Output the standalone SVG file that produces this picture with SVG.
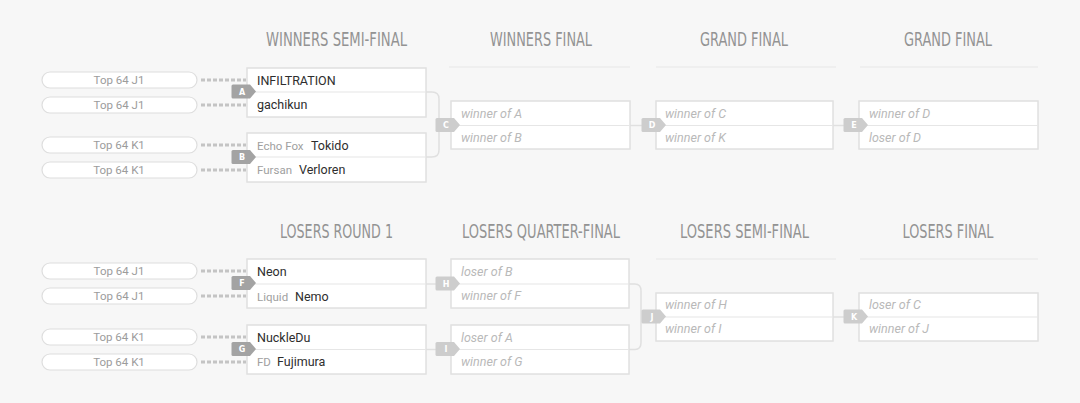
<svg xmlns="http://www.w3.org/2000/svg" width="1080" height="403" viewBox="0 0 1080 403">
<style>
.bg{fill:#f7f7f7}
.hdr{font-family:"DejaVu Sans Condensed","DejaVu Sans",sans-serif;font-size:20px;fill:#939393}
.uline{stroke:#ececec;stroke-width:1.5}
.pill{fill:#fff;stroke:#dedede;stroke-width:1.2}
.ptxt{font-family:Roboto,"Liberation Sans",sans-serif;font-size:11.5px;fill:#9c9c9c;text-anchor:middle}
.dash{stroke:#c4c4c4;stroke-width:3;stroke-dasharray:4 2;fill:none}
.box{fill:#fff;stroke:#e0e0e0;stroke-width:1.5}
.div{stroke:#e6e6e6;stroke-width:1.2}
.name{font-family:Roboto,"Liberation Sans",sans-serif;font-size:12.5px;fill:#2e2e2e}
.team{font-family:Roboto,"Liberation Sans",sans-serif;font-size:11.5px;fill:#a0a0a0}
.ph{font-family:Roboto,"Liberation Sans",sans-serif;font-size:12.5px;font-style:italic;fill:#b9b9b9}
.conn{stroke:#e0e0e0;stroke-width:1.5;fill:none}
.bd{fill:#a3a3a3}
.bl{fill:#cdcdcd}
.btxt{font-family:"DejaVu Sans",sans-serif;font-size:8px;font-weight:bold;fill:#fff;text-anchor:middle}
</style>
<defs>
<path id="badge" d="M-10,-7 H7 L13,0 L7,7 H-10 Q-11.5,7 -11.5,5.5 V-5.5 Q-11.5,-7 -10,-7 Z"/>
</defs>
<rect class="bg" x="0" y="0" width="1080" height="403"/>

<g id="headers">
<text class="hdr" x="336.5" y="45.5" text-anchor="middle" textLength="141" lengthAdjust="spacingAndGlyphs">WINNERS SEMI-FINAL</text>
<text class="hdr" x="541" y="45.5" text-anchor="middle" textLength="102" lengthAdjust="spacingAndGlyphs">WINNERS FINAL</text>
<text class="hdr" x="744" y="45.5" text-anchor="middle" textLength="88" lengthAdjust="spacingAndGlyphs">GRAND FINAL</text>
<text class="hdr" x="948" y="45.5" text-anchor="middle" textLength="88" lengthAdjust="spacingAndGlyphs">GRAND FINAL</text>
<text class="hdr" x="336.5" y="237.5" text-anchor="middle" textLength="113" lengthAdjust="spacingAndGlyphs">LOSERS ROUND 1</text>
<text class="hdr" x="541" y="237.5" text-anchor="middle" textLength="158" lengthAdjust="spacingAndGlyphs">LOSERS QUARTER-FINAL</text>
<text class="hdr" x="744.5" y="237.5" text-anchor="middle" textLength="129" lengthAdjust="spacingAndGlyphs">LOSERS SEMI-FINAL</text>
<text class="hdr" x="948" y="237.5" text-anchor="middle" textLength="91" lengthAdjust="spacingAndGlyphs">LOSERS FINAL</text>
<line class="uline" x1="449" y1="67" x2="630" y2="67"/>
<line class="uline" x1="656" y1="67" x2="836" y2="67"/>
<line class="uline" x1="860" y1="67" x2="1038" y2="67"/>
<line class="uline" x1="656" y1="259" x2="836" y2="259"/>
<line class="uline" x1="860" y1="259" x2="1038" y2="259"/>
</g>

<g id="seeds">
<rect class="pill" x="42" y="72" width="155" height="16" rx="8"/>
<text class="ptxt" x="119" y="84">Top 64 J1</text>
<rect class="pill" x="42" y="97" width="155" height="16" rx="8"/>
<text class="ptxt" x="119" y="109">Top 64 J1</text>
<rect class="pill" x="42" y="137" width="155" height="16" rx="8"/>
<text class="ptxt" x="119" y="149">Top 64 K1</text>
<rect class="pill" x="42" y="162" width="155" height="16" rx="8"/>
<text class="ptxt" x="119" y="174">Top 64 K1</text>
<rect class="pill" x="42" y="263" width="155" height="16" rx="8"/>
<text class="ptxt" x="119" y="275">Top 64 J1</text>
<rect class="pill" x="42" y="288" width="155" height="16" rx="8"/>
<text class="ptxt" x="119" y="300">Top 64 J1</text>
<rect class="pill" x="42" y="329" width="155" height="16" rx="8"/>
<text class="ptxt" x="119" y="341">Top 64 K1</text>
<rect class="pill" x="42" y="354" width="155" height="16" rx="8"/>
<text class="ptxt" x="119" y="366">Top 64 K1</text>
</g>

<g id="connectors">
<line class="dash" x1="201" y1="80" x2="246" y2="80"/>
<line class="dash" x1="201" y1="105" x2="246" y2="105"/>
<line class="dash" x1="201" y1="145" x2="246" y2="145"/>
<line class="dash" x1="201" y1="170" x2="246" y2="170"/>
<line class="dash" x1="201" y1="271" x2="246" y2="271"/>
<line class="dash" x1="201" y1="296" x2="246" y2="296"/>
<line class="dash" x1="201" y1="337" x2="246" y2="337"/>
<line class="dash" x1="201" y1="362" x2="246" y2="362"/>
<path class="conn" d="M426,92 H432 Q439,92 439,99 V150 Q439,157 432,157 H426"/>
<line class="conn" x1="630" y1="125.5" x2="645" y2="125.5"/>
<line class="conn" x1="833" y1="125.5" x2="848" y2="125.5"/>
<line class="conn" x1="426" y1="284" x2="440" y2="284"/>
<line class="conn" x1="426" y1="349.5" x2="440" y2="349.5"/>
<path class="conn" d="M629,284 H635 Q641,284 641,291 V342.5 Q641,349.5 635,349.5 H629"/>
<line class="conn" x1="833" y1="317" x2="848" y2="317"/>
</g>

<g id="match-A">
<rect class="box" x="247" y="68" width="179" height="49"/>
<line class="div" x1="247" y1="92" x2="426" y2="92"/>
<text class="name" x="257" y="85">INFILTRATION</text>
<text class="name" x="257" y="109">gachikun</text>
<use href="#badge" x="243" y="91.5" class="bd"/>
<text class="btxt" x="242" y="94.5">A</text>
</g>

<g id="match-B">
<rect class="box" x="247" y="133" width="179" height="49"/>
<line class="div" x1="247" y1="157" x2="426" y2="157"/>
<text x="257" y="150"><tspan class="team">Echo Fox</tspan><tspan class="name" x="311">Tokido</tspan></text>
<text x="257" y="174"><tspan class="team">Fursan</tspan><tspan class="name" x="299">Verloren</tspan></text>
<use href="#badge" x="243" y="157" class="bd"/>
<text class="btxt" x="242" y="160">B</text>
</g>

<g id="match-C">
<rect class="box" x="451" y="101" width="179" height="48"/>
<line class="div" x1="451" y1="125.5" x2="630" y2="125.5"/>
<text class="ph" x="461" y="118">winner of A</text>
<text class="ph" x="461" y="142">winner of B</text>
<use href="#badge" x="447" y="125" class="bl"/>
<text class="btxt" x="446" y="128">C</text>
</g>

<g id="match-D">
<rect class="box" x="656" y="101" width="177" height="48"/>
<line class="div" x1="656" y1="125.5" x2="833" y2="125.5"/>
<text class="ph" x="665" y="118">winner of C</text>
<text class="ph" x="665" y="142">winner of K</text>
<use href="#badge" x="653" y="125" class="bl"/>
<text class="btxt" x="652" y="128">D</text>
</g>

<g id="match-E">
<rect class="box" x="859" y="101" width="179" height="48"/>
<line class="div" x1="859" y1="125.5" x2="1038" y2="125.5"/>
<text class="ph" x="869" y="118">winner of D</text>
<text class="ph" x="869" y="142">loser of D</text>
<use href="#badge" x="855" y="125" class="bl"/>
<text class="btxt" x="854" y="128">E</text>
</g>

<g id="match-F">
<rect class="box" x="247" y="259" width="179" height="49"/>
<line class="div" x1="247" y1="284" x2="426" y2="284"/>
<text class="name" x="257" y="276">Neon</text>
<text x="257" y="301"><tspan class="team">Liquid</tspan><tspan class="name" x="295">Nemo</tspan></text>
<use href="#badge" x="243" y="283" class="bd"/>
<text class="btxt" x="242" y="286">F</text>
</g>

<g id="match-G">
<rect class="box" x="247" y="325" width="179" height="49"/>
<line class="div" x1="247" y1="349.5" x2="426" y2="349.5"/>
<text class="name" x="257" y="342">NuckleDu</text>
<text x="257" y="366"><tspan class="team">FD</tspan><tspan class="name" x="277">Fujimura</tspan></text>
<use href="#badge" x="243" y="349" class="bd"/>
<text class="btxt" x="242" y="352">G</text>
</g>

<g id="match-H">
<rect class="box" x="451" y="259" width="178" height="49"/>
<line class="div" x1="451" y1="284" x2="629" y2="284"/>
<text class="ph" x="461" y="276">loser of B</text>
<text class="ph" x="461" y="300">winner of F</text>
<use href="#badge" x="447" y="283.5" class="bl"/>
<text class="btxt" x="446" y="286.5">H</text>
</g>

<g id="match-I">
<rect class="box" x="451" y="325" width="178" height="49"/>
<line class="div" x1="451" y1="349.5" x2="629" y2="349.5"/>
<text class="ph" x="461" y="342">loser of A</text>
<text class="ph" x="461" y="366">winner of G</text>
<use href="#badge" x="447" y="349" class="bl"/>
<text class="btxt" x="446" y="352">I</text>
</g>

<g id="match-J">
<rect class="box" x="656" y="293" width="177" height="48"/>
<line class="div" x1="656" y1="317" x2="833" y2="317"/>
<text class="ph" x="665" y="309">winner of H</text>
<text class="ph" x="665" y="333">winner of I</text>
<use href="#badge" x="653" y="316.5" class="bl"/>
<text class="btxt" x="652" y="319.5">J</text>
</g>

<g id="match-K">
<rect class="box" x="859" y="293" width="179" height="48"/>
<line class="div" x1="859" y1="317" x2="1038" y2="317"/>
<text class="ph" x="869" y="309">loser of C</text>
<text class="ph" x="869" y="333">winner of J</text>
<use href="#badge" x="855" y="316.5" class="bl"/>
<text class="btxt" x="854" y="319.5">K</text>
</g>
</svg>
